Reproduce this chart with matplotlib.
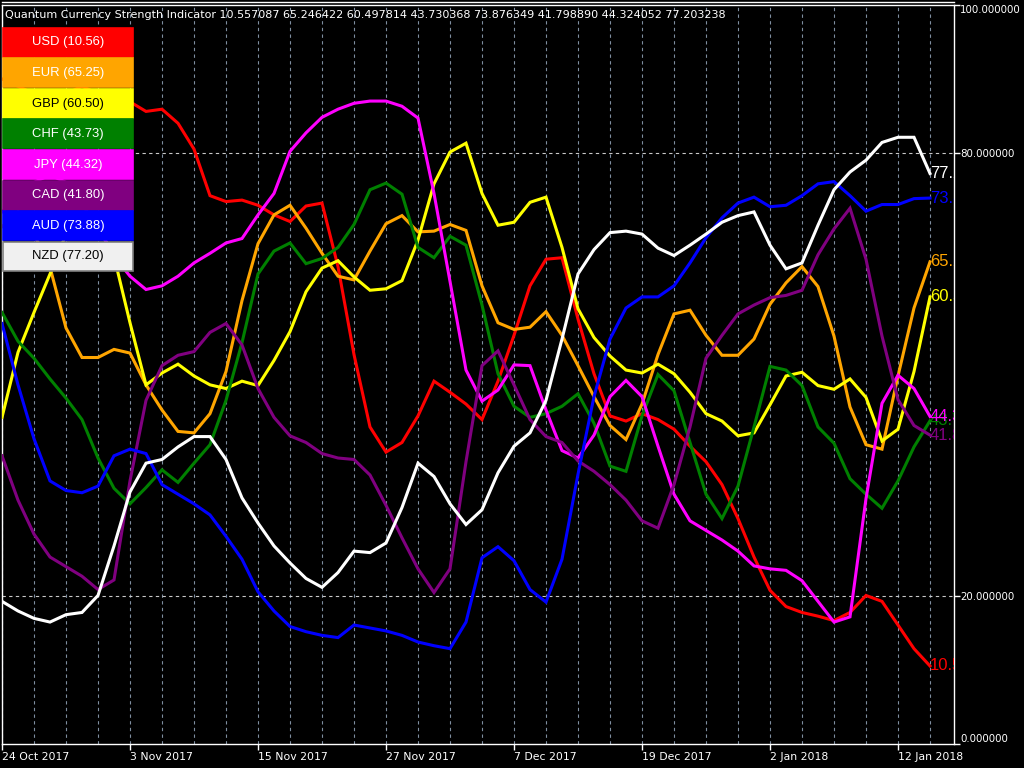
import matplotlib
matplotlib.use("Agg")
import matplotlib.pyplot as plt
from matplotlib.patches import Rectangle
from matplotlib.lines import Line2D

# currency strength values, one per daily bar
usd = [90, 89, 88, 87, 88, 89, 88, 87, 86.9, 85.6, 85.9, 84.0, 80.5, 74.2, 73.4, 73.6, 72.9, 71.6, 70.7, 72.8,
       73.2, 64.6, 52.7, 42.9, 39.5, 40.8, 44.4, 49.1, 47.6, 46.0, 43.9, 49.1, 55.3, 62.0, 65.6, 65.8, 57.5, 50.1,
       44.4, 43.7, 44.7, 43.9, 42.6, 40.3, 38.2, 35.1, 30.5, 25.3, 20.8, 18.6, 17.8, 17.3, 16.7, 17.8, 20.1, 19.3,
       16.1, 12.9, 10.557087]
eur = [70, 72, 69, 64.5, 56.3, 52.3, 52.3, 53.4, 52.9, 48.6, 45.2, 42.3, 42.1, 44.7, 50.4, 60.0, 67.7, 71.6, 72.9,
       69.8, 66.4, 63.3, 62.8, 66.7, 70.4, 71.5, 69.3, 69.4, 70.3, 69.5, 62.0, 57.0, 56.1, 56.4, 58.5, 55.3, 51.2,
       47.0, 43.1, 41.2, 46.0, 52.7, 58.2, 58.7, 55.3, 52.6, 52.6, 54.8, 59.5, 62.4, 64.6, 61.9, 55.2, 45.6, 40.5,
       39.9, 49.8, 59.0, 65.246422]
gbp = [44.2, 53.0, 58.4, 63.6, 69, 71, 70, 66, 57.0, 48.6, 50.2, 51.4, 49.8, 48.6, 48.1, 49.1, 48.5, 51.9, 55.8,
       61.2, 64.4, 65.4, 63.2, 61.4, 61.6, 62.7, 68.2, 75.8, 80.1, 81.3, 74.5, 70.2, 70.6, 73.3, 74.0, 67.2, 58.9,
       55.0, 52.5, 50.6, 50.2, 51.4, 50.1, 47.6, 44.7, 43.7, 41.7, 42.1, 45.9, 49.8, 50.3, 48.5, 48.0, 49.4, 46.9,
       41.0, 42.6, 50.4, 60.497814]
chf = [58.4, 54.5, 52.2, 49.4, 46.8, 43.9, 38.7, 34.6, 32.5, 34.7, 37.1, 35.4, 38.0, 40.5, 46.5, 54.3, 63.6, 66.7,
       67.8, 65.0, 65.7, 67.2, 70.3, 75.0, 75.9, 74.4, 67.2, 65.8, 68.7, 67.5, 59.4, 50.1, 45.7, 44.2, 44.7, 45.7,
       47.4, 43.4, 37.6, 36.9, 44.4, 50.0, 47.8, 40.8, 33.8, 30.5, 34.9, 42.9, 51.1, 50.6, 48.5, 42.9, 40.7, 35.9,
       33.8, 31.9, 35.6, 40.2, 43.730368]
jpy = [72, 74, 76, 77, 76, 73, 70, 66, 63.3, 61.5, 62.0, 63.3, 65.1, 66.4, 67.8, 68.4, 71.6, 74.5, 80.2, 82.7,
       84.8, 85.9, 86.7, 87.0, 87.0, 86.3, 84.7, 74.5, 62.6, 50.6, 46.4, 47.9, 51.3, 51.2, 45.2, 39.7, 38.7, 41.8,
       47.0, 49.2, 47.0, 40.3, 33.8, 30.2, 28.9, 27.6, 26.1, 24.1, 23.7, 23.5, 22.1, 19.3, 16.5, 17.2, 33.2, 46.1,
       49.9, 48.1, 44.324052]
cad = [39.0, 33.0, 28.4, 25.3, 24.0, 22.7, 20.9, 22.2, 35.6, 46.5, 51.2, 52.6, 53.1, 55.7, 56.9, 54.0, 48.1, 44.2,
       41.7, 40.8, 39.3, 38.7, 38.5, 36.4, 32.3, 27.9, 23.7, 20.5, 23.7, 38.2, 51.2, 53.2, 48.6, 43.9, 41.6, 40.8,
       38.3, 36.9, 35.1, 33.0, 30.2, 29.2, 35.1, 42.9, 52.2, 55.3, 58.2, 59.4, 60.4, 60.7, 61.4, 66.2, 69.7, 72.5,
       65.6, 55.2, 46.6, 43.1, 41.798890]
aud = [56.9, 48.6, 41.3, 35.6, 34.3, 34.0, 34.9, 39.0, 39.9, 39.3, 35.1, 33.8, 32.5, 31.0, 28.1, 25.0, 20.6, 18.0,
       15.9, 15.2, 14.7, 14.4, 16.1, 15.7, 15.3, 14.7, 13.8, 13.3, 12.9, 16.5, 25.2, 26.7, 24.8, 20.9, 19.2, 25.0,
       36.5, 47.0, 54.8, 59.0, 60.5, 60.5, 62.0, 65.1, 68.5, 71.2, 73.2, 74.0, 72.7, 72.9, 74.2, 75.8, 76.1, 74.2,
       72.1, 73.0, 73.0, 73.8, 73.876349]
nzd = [19.3, 18.0, 17.0, 16.5, 17.5, 17.8, 20.1, 26.8, 34.1, 38.0, 38.5, 40.2, 41.6, 41.6, 38.5, 33.3, 29.9, 26.8,
       24.5, 22.4, 21.2, 23.2, 26.1, 25.9, 27.2, 32.0, 38.0, 36.2, 32.5, 29.7, 31.7, 36.7, 40.3, 42.1, 46.5, 54.8,
       63.6, 66.9, 69.2, 69.4, 69.0, 67.1, 66.1, 67.5, 69.0, 70.6, 71.5, 72.0, 67.5, 64.3, 65.1, 70.2, 75.0, 77.4,
       79.0, 81.4, 82.1, 82.1, 77.203238]

names = ["USD", "EUR", "GBP", "CHF", "JPY", "CAD", "AUD", "NZD"]
series = [usd, eur, gbp, chf, jpy, cad, aud, nzd]
colors = ["#ff0000", "#ffa500", "#ffff00", "#008000", "#ff00ff", "#800080", "#0000ff", "#ffffff"]
title_order = ["USD", "EUR", "GBP", "CHF", "AUD", "CAD", "JPY", "NZD"]

tick_pos = [0, 8, 16, 24, 32, 40, 48, 56]
tick_labels = ["24 Oct 2017", "3 Nov 2017", "15 Nov 2017", "27 Nov 2017",
               "7 Dec 2017", "19 Dec 2017", "2 Jan 2018", "12 Jan 2018"]

W, H = 1024, 768
fig = plt.figure(figsize=(W / 100, H / 100), dpi=100, facecolor="black")
ax = fig.add_axes([2 / W, (H - 744) / H, 952 / W, 739 / H], facecolor="black")
n = len(usd)
x = list(range(n))

# grid
for gx in range(0, n, 2):
    ax.axvline(gx, color="#7f8ea0", lw=0.8, ls=(0, (3, 3)), zorder=1)
for gy in [20, 80]:
    ax.axhline(gy, color="#c8c8c8", lw=0.8, ls=(0, (3, 3)), zorder=1)

by_name = {}
for name, vals, c in zip(names, series, colors):
    by_name[name] = vals
    ax.plot(x, vals, color=c, lw=2.2, zorder=3, solid_joinstyle="miter")
    ax.text(n - 1, vals[-1], f"{vals[-1]:.2f}", color=c, fontsize=12, family="Liberation Sans",
            ha="left", va="center", clip_on=True, zorder=4)

ax.set_xlim(0, 59.5)
ax.set_ylim(0, 100)
for s in ax.spines.values():
    s.set_color("white")
    s.set_linewidth(1)

ax.set_xticks(tick_pos)
ax.set_xticklabels(tick_labels, ha="left")
ax.yaxis.tick_right()
ax.set_yticks([0, 20, 80, 100])
ylabels = ax.set_yticklabels([f"{v:.6f}" for v in [0, 20, 80, 100]])
ylabels[0].set_va("bottom")
ylabels[-1].set_va("top")
ax.tick_params(colors="white", labelcolor="white", labelsize=7.8, length=4, width=1, pad=1)
ax.tick_params(axis="y", labelsize=7.4, pad=0.5)
ax.tick_params(axis="x", pad=2)

# title line with all last values
title = "Quantum Currency Strength Indicator " + " ".join(f"{by_name[k][-1]:.6f}" for k in title_order)
fig.text(5 / W, 1 - 15.5 / H, title, color="white", fontsize=8.0, va="center", ha="left")
fig.add_artist(Line2D([2 / W, 954 / W], [1 - 1.5 / H, 1 - 1.5 / H], color="white", lw=1,
                      transform=fig.transFigure))

# legend boxes
box_top, box_h = 27, 30.6
for k, (name, vals, c) in enumerate(zip(names, series, colors)):
    y0 = box_top + k * box_h
    face = "#f0f0f0" if name == "NZD" else c
    edge = "#808080" if name == "NZD" else c
    r = Rectangle((3 / W, 1 - (y0 + box_h - 1) / H), 130 / W, (box_h - 1.5) / H,
                  transform=fig.transFigure, facecolor=face, edgecolor=edge, lw=1.2, zorder=10)
    fig.add_artist(r)
    tc = "black" if name in ("GBP", "NZD") else "white"
    fig.text(68 / W, 1 - (y0 + box_h / 2) / H, f"{name} ({vals[-1]:.2f})", color=tc,
             fontsize=9.4, family="Liberation Sans", ha="center", va="center", zorder=11)

fig.savefig("out.png", dpi=100, facecolor="black")
